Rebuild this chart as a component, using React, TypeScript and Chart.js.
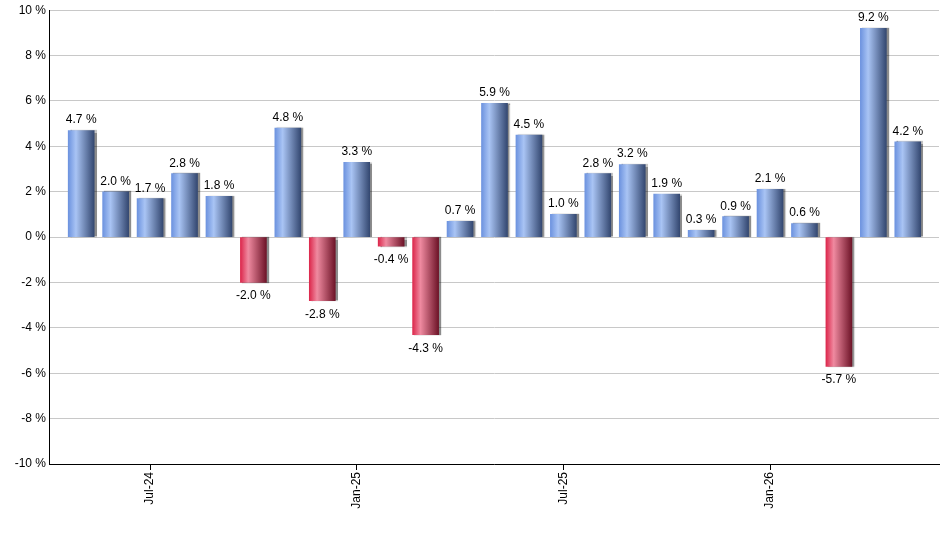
import { useEffect, useRef } from "react";
import Chart from "chart.js/auto";

const months = [
  "May-24", "Jun-24", "Jul-24", "Aug-24", "Sep-24", "Oct-24", "Nov-24", "Dec-24",
  "Jan-25", "Feb-25", "Mar-25", "Apr-25", "May-25", "Jun-25", "Jul-25", "Aug-25",
  "Sep-25", "Oct-25", "Nov-25", "Dec-25", "Jan-26", "Feb-26", "Mar-26", "Apr-26",
  "May-26",
];
const returns = [
  4.7, 2.0, 1.7, 2.8, 1.8, -2.0, 4.8, -2.8, 3.3, -0.4, -4.3, 0.7, 5.9, 4.5, 1.0,
  2.8, 3.2, 1.9, 0.3, 0.9, 2.1, 0.6, -5.7, 9.2, 4.2,
];
const labelIndexes = [2, 8, 14, 20];
const yTicks = [-10, -8, -6, -4, -2, 0, 2, 4, 6, 8, 10];

const FONT = "'Liberation Sans', Arial, sans-serif";

const App = () => {
  const canvasRef = useRef(null);
  const chartRef = useRef(null);

  useEffect(() => {
    if (!canvasRef.current) return;
    if (chartRef.current) chartRef.current.destroy();

    const barFill = (c) => {
      const v = returns[c.dataIndex];
      const up = v >= 0;
      const chart = c.chart;
      if (!chart.chartArea || c.type !== "data" || !chart.scales.x) {
        return up ? "#7a9de6" : "#d83050";
      }
      const cx = chart.scales.x.getPixelForValue(c.dataIndex);
      const g = chart.ctx.createLinearGradient(cx - 13, 0, cx + 13, 0);
      if (up) {
        g.addColorStop(0, "#6d93df");
        g.addColorStop(0.3, "#a9c4f4");
        g.addColorStop(1, "#344871");
      } else {
        g.addColorStop(0, "#dc284c");
        g.addColorStop(0.3, "#ef8aa0");
        g.addColorStop(1, "#6e1428");
      }
      return g;
    };

    const valueLabels = {
      id: "valueLabels",
      beforeDatasetsDraw(chart) {
        const ctx = chart.ctx;
        ctx.save();
        ctx.shadowColor = "rgba(0,0,0,0.45)";
        ctx.shadowOffsetX = 2;
        ctx.shadowOffsetY = 0;
        ctx.shadowBlur = 1;
      },
      afterDatasetsDraw(chart) {
        const ctx = chart.ctx;
        ctx.restore();
        const meta = chart.getDatasetMeta(0);
        ctx.save();
        ctx.font = `12px ${FONT}`;
        ctx.fillStyle = "#000";
        ctx.textAlign = "center";
        ctx.textBaseline = "alphabetic";
        meta.data.forEach((bar, i) => {
          const v = returns[i];
          const y = v >= 0 ? bar.y - 7 : bar.y + 17;
          ctx.fillText(`${v.toFixed(1)} %`, bar.x, y);
        });
        ctx.restore();
      },
    };

    chartRef.current = new Chart(canvasRef.current.getContext("2d"), {
      type: "bar",
      data: {
        datasets: [
          {
            data: returns.map((v, i) => ({ x: i, y: v })),
            backgroundColor: barFill,
            borderWidth: 0,
            barThickness: 26,
          },
        ],
      },
      options: {
        animation: false,
        responsive: false,
        layout: { padding: { top: 9, right: 1, left: 0, bottom: 0 } },
        plugins: {
          legend: { display: false },
          tooltip: { enabled: false },
        },
        scales: {
          x: {
            type: "linear",
            offset: false,
            min: -0.935,
            max: 24.906,
            afterBuildTicks: (scale) => {
              scale.ticks = labelIndexes.map((v) => ({ value: v }));
            },
            afterFit: (scale) => {
              scale.height = 86;
            },
            grid: {
              offset: false,
              drawOnChartArea: false,
              drawTicks: true,
              tickLength: 6,
              color: "#000",
            },
            border: { display: true, color: "#000", width: 1 },
            ticks: {
              autoSkip: false,
              minRotation: 90,
              maxRotation: 90,
              padding: 2,
              color: "#000",
              font: { family: FONT, size: 12 },
              callback: (v) => months[v] ?? "",
            },
          },
          y: {
            min: -10,
            max: 10,
            afterBuildTicks: (scale) => {
              scale.ticks = yTicks.map((v) => ({ value: v }));
            },
            afterFit: (scale) => {
              scale.width = 49;
            },
            grid: { color: "#c8c8c8", drawTicks: false },
            border: { display: true, color: "#000", width: 1 },
            ticks: {
              padding: 3,
              color: "#000",
              font: { family: FONT, size: 12 },
              callback: (v) => `${v} %`,
            },
          },
        },
      },
      plugins: [valueLabels],
    });

    return () => {
      if (chartRef.current) {
        chartRef.current.destroy();
        chartRef.current = null;
      }
    };
  }, []);

  return (
    <div
      style={{
        position: "fixed",
        left: 0,
        top: 0,
        width: 940,
        height: 550,
        background: "#fff",
      }}
    >
      <canvas ref={canvasRef} width={940} height={550} />
    </div>
  );
};

export default App;
